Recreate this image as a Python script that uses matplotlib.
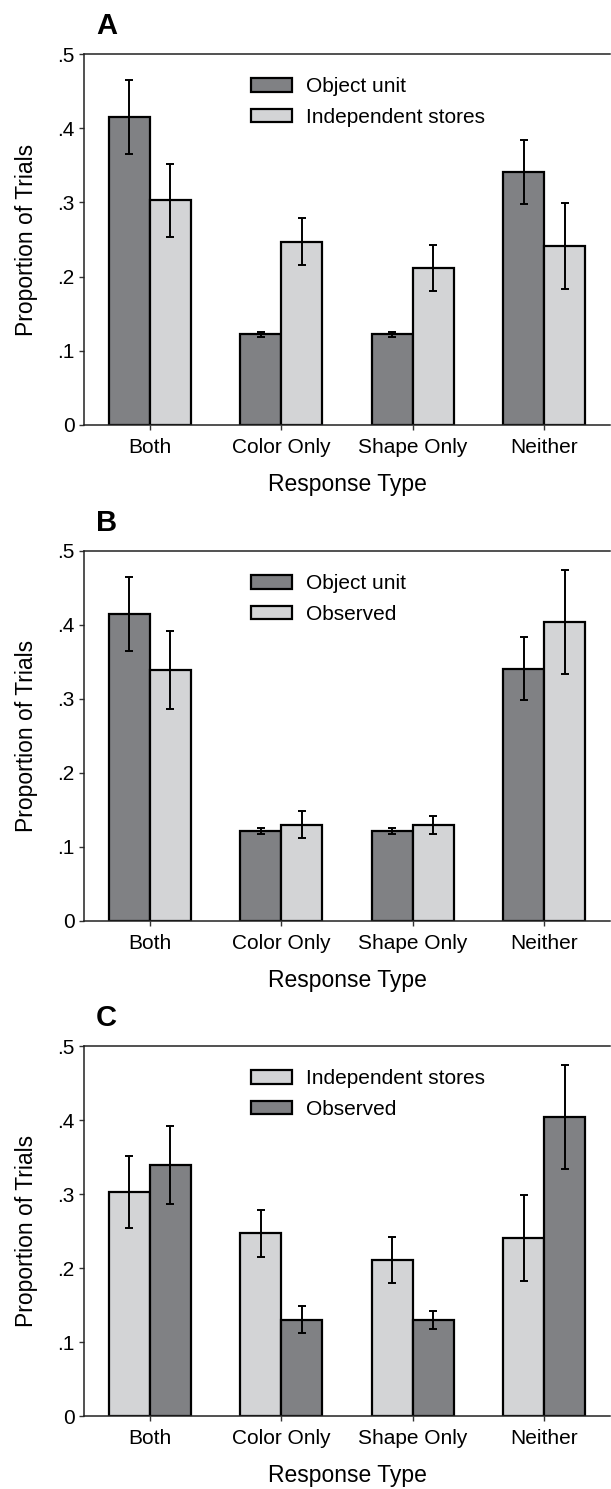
import matplotlib
matplotlib.use("Agg")
import matplotlib.pyplot as plt
import numpy as np

plt.rcParams["font.family"] = ["Liberation Sans", "DejaVu Sans"]

categories = ["Both", "Color Only", "Shape Only", "Neither"]

object_unit = [0.415, 0.122, 0.122, 0.341]
object_unit_err = [0.050, 0.004, 0.004, 0.043]

independent = [0.303, 0.247, 0.211, 0.241]
independent_err = [0.049, 0.032, 0.031, 0.058]

observed = [0.339, 0.130, 0.130, 0.404]
observed_err = [0.053, 0.018, 0.012, 0.070]

yticks = [0, 0.1, 0.2, 0.3, 0.4, 0.5]
ytick_labels = ["0", ".1", ".2", ".3", ".4", ".5"]

DARK = "#808184"
LIGHT = "#d3d4d6"

W, H = 611, 1489
fig = plt.figure(figsize=(W / 100, H / 100), dpi=100)

# (label, top px, bottom px, first series, second series)
panels = [
    ("A", 54, 425,
     ("Object unit", object_unit, object_unit_err, DARK),
     ("Independent stores", independent, independent_err, LIGHT)),
    ("B", 551, 921,
     ("Object unit", object_unit, object_unit_err, DARK),
     ("Observed", observed, observed_err, LIGHT)),
    ("C", 1046, 1416,
     ("Independent stores", independent, independent_err, LIGHT),
     ("Observed", observed, observed_err, DARK)),
]

left_px, right_px = 84, 610
x = np.arange(len(categories))
bw = 0.31

for label, top, bot, s1, s2 in panels:
    ax = fig.add_axes([left_px / W, 1 - bot / H, (right_px - left_px) / W,
                       (bot - top) / H])
    for off, (name, vals, errs, col) in zip([-bw / 2, bw / 2], [s1, s2]):
        ax.bar(x + off, vals, bw, color=col, edgecolor="black", linewidth=1.6,
               label=name, zorder=2)
        ax.errorbar(x + off, vals, yerr=errs, fmt="none", ecolor="black",
                    elinewidth=1.4, capsize=2.6, capthick=1.4, zorder=3)
    ax.set_xlim(-0.5, 3.5)
    ax.set_ylim(0, 0.5)
    ax.set_yticks(yticks)
    ax.set_yticklabels(ytick_labels)
    ax.set_xticks(x)
    ax.set_xticklabels(categories)
    ax.tick_params(axis="both", labelsize=15, direction="out", length=3.6,
                   width=1, color="#333333")
    ax.tick_params(axis="x", pad=6)
    ax.tick_params(axis="y", pad=3)
    ax.spines["right"].set_visible(False)
    for sp in ["left", "bottom", "top"]:
        ax.spines[sp].set_linewidth(1.1)
        ax.spines[sp].set_color("#222222")
    ax.set_ylabel("Proportion of Trials", fontsize=16.5, labelpad=14)
    ax.set_xlabel("Response Type", fontsize=16.5, labelpad=11)
    ax.text(96 / W, 1 - (top - 28) / H, label, transform=fig.transFigure,
            fontsize=21, fontweight="bold", va="center", ha="left")
    ax.legend(loc="upper left", bbox_to_anchor=(0.317, 0.937), frameon=False,
              fontsize=15, handlelength=1.97, handleheight=0.6,
              labelspacing=0.56, handletextpad=0.67, borderpad=0,
              borderaxespad=0)

fig.savefig("out.png", dpi=100)
